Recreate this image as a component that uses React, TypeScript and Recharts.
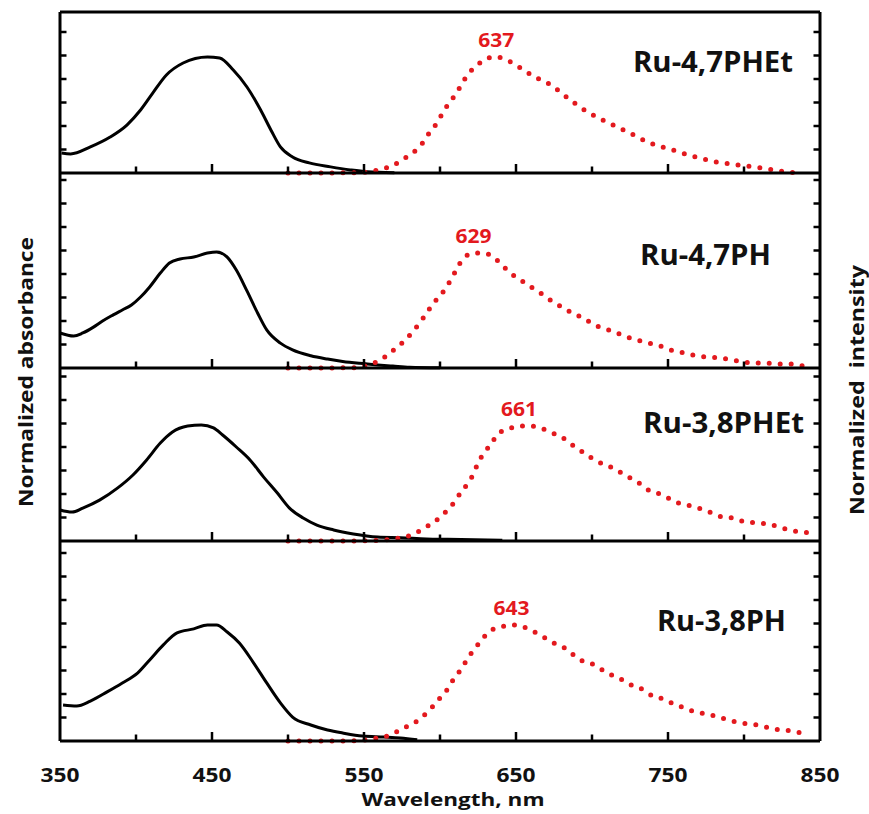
import React from "react";
import { Line, LineChart, ReferenceLine, XAxis, YAxis } from "recharts";

type Pt = [number, number];

// wavelength axis, nm
const wavelengthTicks = [350, 400, 450, 500, 550, 600, 650, 700, 750, 800, 850];

// absorbance (black) and emission (red dotted), in y-tick units
const absRu47PHEt: Pt[] = [
  [351, 0.85], [357, 0.81], [370, 1.11], [383, 1.53], [394, 2.04], [403, 2.68], [411, 3.4],
  [420, 4.17], [431, 4.68], [447, 4.94], [455, 4.89], [464, 4.38], [473, 3.66], [482, 2.68],
  [489, 1.8], [495, 1.11], [503, 0.68], [514, 0.43], [528, 0.26], [541, 0.13], [552, 0.05], [570, 0.01],
];
const emRu47PHEt: Pt[] = [
  [500, 0], [525, 0], [546, 0.02], [554, 0.06], [562, 0.17], [569, 0.32], [576, 0.6], [582, 0.85],
  [588, 1.23], [592, 1.62], [597, 2.04], [601, 2.47], [605, 2.89], [610, 3.32], [614, 3.74],
  [618, 4.17], [624, 4.55], [630, 4.85], [637, 4.94], [645, 4.77], [651, 4.55], [658, 4.26],
  [665, 4.0], [672, 3.78], [684, 3.19], [697, 2.6], [711, 2.13], [725, 1.7], [738, 1.28],
  [753, 0.98], [766, 0.72], [782, 0.47], [796, 0.34], [812, 0.21], [826, 0.06], [835, 0],
];

const absRu47PH: Pt[] = [
  [350, 1.49], [359, 1.36], [365, 1.49], [372, 1.74], [378, 2.0], [385, 2.26], [391, 2.47],
  [397, 2.68], [403, 3.02], [409, 3.45], [416, 4.04], [422, 4.47], [429, 4.64], [438, 4.72],
  [447, 4.89], [453, 4.94], [460, 4.72], [466, 4.17], [473, 3.28], [480, 2.34], [486, 1.62],
  [495, 1.06], [503, 0.77], [515, 0.52], [526, 0.38], [536, 0.28], [547, 0.2], [559, 0.13],
  [569, 0.08], [580, 0.03], [600, 0.01],
];
const emRu47PH: Pt[] = [
  [500, 0], [525, 0], [546, 0.02], [554, 0.17], [561, 0.34], [567, 0.64], [573, 0.94], [579, 1.32],
  [584, 1.7], [589, 2.13], [593, 2.51], [598, 2.94], [603, 3.32], [607, 3.74], [611, 4.21],
  [615, 4.64], [622, 4.89], [629, 4.89], [636, 4.68], [642, 4.3], [648, 3.96], [655, 3.66],
  [661, 3.4], [667, 3.15], [674, 2.83], [680, 2.6], [687, 2.34], [694, 2.13], [703, 1.79],
  [711, 1.62], [718, 1.45], [725, 1.28], [732, 1.15], [740, 1.02], [747, 0.89], [754, 0.72],
  [761, 0.64], [769, 0.51], [776, 0.47], [784, 0.43], [792, 0.34], [799, 0.26], [807, 0.21],
  [815, 0.21], [822, 0.17], [830, 0.17], [839, 0.09],
];

const absRu38PHEt: Pt[] = [
  [350, 1.32], [358, 1.23], [365, 1.4], [376, 1.74], [388, 2.26], [398, 2.81], [407, 3.45],
  [416, 4.17], [424, 4.64], [434, 4.89], [443, 4.94], [451, 4.81], [457, 4.51], [466, 4.0],
  [475, 3.45], [484, 2.72], [493, 2.04], [501, 1.4], [510, 0.98], [519, 0.68], [530, 0.47],
  [543, 0.3], [559, 0.17], [574, 0.14], [591, 0.09], [605, 0.07], [641, 0.03],
];
const emRu38PHEt: Pt[] = [
  [500, 0], [530, 0], [560, 0.02], [569, 0.09], [577, 0.17], [584, 0.34], [591, 0.6], [597, 0.85],
  [603, 1.19], [609, 1.62], [613, 2.0], [618, 2.43], [622, 2.85], [625, 3.32], [629, 3.74],
  [634, 4.17], [638, 4.55], [645, 4.77], [652, 4.89], [660, 4.89], [667, 4.79], [674, 4.6],
  [682, 4.34], [688, 4.04], [695, 3.74], [703, 3.4], [711, 3.19], [717, 2.98], [724, 2.72],
  [730, 2.51], [736, 2.21], [743, 2.04], [750, 1.83], [757, 1.62], [765, 1.49], [772, 1.36],
  [779, 1.19], [786, 1.02], [793, 0.98], [801, 0.81], [809, 0.77], [816, 0.72], [823, 0.6],
  [830, 0.47], [838, 0.38], [845, 0.34],
];

const absRu38PH: Pt[] = [
  [352, 1.53], [361, 1.49], [370, 1.7], [381, 2.09], [391, 2.47], [401, 2.89], [409, 3.45],
  [418, 4.09], [427, 4.6], [438, 4.77], [447, 4.94], [453, 4.94], [460, 4.64], [468, 4.17],
  [477, 3.36], [486, 2.47], [495, 1.62], [503, 1.02], [515, 0.68], [526, 0.47], [536, 0.34],
  [549, 0.21], [563, 0.17], [574, 0.13], [585, 0.05],
];
const emRu38PH: Pt[] = [
  [500, 0], [525, 0], [548, 0.02], [555, 0.09], [563, 0.17], [570, 0.34], [576, 0.55], [583, 0.77],
  [589, 1.06], [595, 1.45], [600, 1.83], [605, 2.21], [609, 2.64], [614, 3.06], [618, 3.49],
  [622, 3.87], [627, 4.26], [632, 4.64], [640, 4.85], [647, 4.94], [655, 4.85], [661, 4.68],
  [668, 4.43], [675, 4.17], [682, 3.96], [688, 3.66], [694, 3.4], [700, 3.28], [707, 3.02],
  [713, 2.81], [720, 2.6], [726, 2.38], [734, 2.17], [740, 1.91], [747, 1.79], [754, 1.57],
  [761, 1.4], [768, 1.23], [776, 1.15], [783, 1.02], [790, 0.89], [797, 0.77], [805, 0.72],
  [812, 0.64], [819, 0.51], [827, 0.47], [835, 0.38], [842, 0.3],
];

const complexNames = ["Ru-4,7PHEt", "Ru-4,7PH", "Ru-3,8PHEt", "Ru-3,8PH"];
const peakLabels = ["637", "629", "661", "643"];
const absSeries = [absRu47PHEt, absRu47PH, absRu38PHEt, absRu38PH];
const emSeries = [emRu47PHEt, emRu47PH, emRu38PHEt, emRu38PH];

// layout
const W = 869;
const H = 814;
const PLOT_LEFT = 60;
const PLOT_RIGHT = 820;
const PANEL_EDGES = [12, 173, 368, 541, 741];
const TICK_PX = 23.5;
const PAD_TOP = 4;
const RED = "#e3191e";
const FONT = '"Open Sans", "DejaVu Sans", sans-serif';

// name placement: [x, baseline, textLength]
const NAME_POS: [number, number, number][] = [
  [633, 72, 160],
  [640, 265, 131],
  [643, 433, 161],
  [657, 631, 129],
];

const isMajor = (v: number) => (v - 350) % 100 === 0;

// inward tick on the wavelength axis, label only on the bottom panel
function WlTick(props: any) {
  const { x, y, payload, showLabel } = props;
  const v = Number(payload?.value);
  const y0 = Number(y);
  const inner = v > 350 && v < 850;
  return (
    <g>
      {inner && (
        <path d={`M${x},${y0}V${y0 - (isMajor(v) ? 9 : 6.5)}`} stroke="#000" strokeWidth={2.5} fill="none" />
      )}
      {showLabel && isMajor(v) && (
        <text
          x={x}
          y={y0 + 41}
          textAnchor="middle"
          fontFamily={FONT}
          fontWeight={700}
          fontSize={19}
          textLength={39}
          lengthAdjust="spacingAndGlyphs"
          fill="#111"
        >
          {v}
        </text>
      )}
    </g>
  );
}

function SideTick(props: any) {
  const { x, y, dir } = props;
  return <path d={`M${x},${y}H${x + dir * 6.5}`} stroke="#000" strokeWidth={2.5} fill="none" />;
}

const makePeakLabel = (peakIdx: number, text: string) => (p: any) => {
  if (p.index !== peakIdx) return <g />;
  const vb = p.viewBox ?? {};
  const x = vb.x ?? p.x;
  const y = vb.y ?? p.y;
  return (
    <text
      x={x}
      y={y - 10}
      textAnchor="middle"
      fontFamily={FONT}
      fontWeight={700}
      fontSize={19}
      textLength={36}
      lengthAdjust="spacingAndGlyphs"
      fill={RED}
    >
      {text}
    </text>
  );
};

function Panel({ idx }: { idx: number }) {
  const top = PANEL_EDGES[idx];
  const h = PANEL_EDGES[idx + 1] - top;
  const yMax = h / TICK_PX;
  const yTicks = Array.from({ length: Math.floor(yMax) }, (_, i) => i + 1);
  const last = idx === complexNames.length - 1;
  const xh = last ? 52 : 4;
  const abs = absSeries[idx].map(([x, y]) => ({ x, y }));
  const em = emSeries[idx].map(([x, y]) => ({ x, y }));
  let peakIdx = 0;
  em.forEach((d, i) => {
    if (d.y > em[peakIdx].y) peakIdx = i;
  });
  const axisLine = { stroke: "#000", strokeWidth: 3 };

  return (
    <div style={{ position: "absolute", left: 0, top: top - PAD_TOP }}>
      <LineChart
        width={W}
        height={h + PAD_TOP + xh}
        margin={{ top: PAD_TOP, right: 0, bottom: 0, left: 0 }}
      >
        <XAxis
          dataKey="x"
          type="number"
          domain={[350, 850]}
          ticks={wavelengthTicks}
          interval={0}
          height={xh}
          tickLine={false}
          tickSize={0}
          tickMargin={0}
          axisLine={axisLine}
          tick={<WlTick showLabel={last} />}
        />
        <YAxis
          yAxisId="abs"
          orientation="left"
          width={PLOT_LEFT}
          type="number"
          domain={[0, yMax]}
          ticks={yTicks}
          interval={0}
          tickLine={false}
          tickSize={0}
          tickMargin={0}
          axisLine={axisLine}
          tick={<SideTick dir={1} />}
        />
        <YAxis
          yAxisId="em"
          orientation="right"
          width={W - PLOT_RIGHT}
          type="number"
          domain={[0, yMax]}
          ticks={yTicks}
          interval={0}
          tickLine={false}
          tickSize={0}
          tickMargin={0}
          axisLine={axisLine}
          tick={<SideTick dir={-1} />}
        />
        {idx === 0 && <ReferenceLine yAxisId="abs" y={yMax} stroke="#000" strokeWidth={3} />}
        <Line
          data={abs}
          dataKey="y"
          yAxisId="abs"
          type="monotone"
          stroke="#000"
          strokeWidth={3}
          dot={false}
          isAnimationActive={false}
        />
        <Line
          data={em}
          dataKey="y"
          yAxisId="em"
          type="monotone"
          stroke={RED}
          strokeWidth={5}
          strokeDasharray="0 11"
          strokeLinecap="round"
          dot={false}
          label={makePeakLabel(peakIdx, peakLabels[idx])}
          isAnimationActive={false}
        />
      </LineChart>
    </div>
  );
}

export default function App() {
  return (
    <div style={{ position: "absolute", left: 0, top: 0, width: W, height: H, background: "#fff" }}>
      {complexNames.map((_, i) => (
        <Panel key={i} idx={i} />
      ))}
      <svg
        width={W}
        height={H}
        style={{ position: "absolute", left: 0, top: 0, pointerEvents: "none" }}
      >
        {complexNames.map((name, i) => (
          <text
            key={name}
            x={NAME_POS[i][0]}
            y={NAME_POS[i][1]}
            fontFamily={FONT}
            fontWeight={700}
            fontSize={29}
            textLength={NAME_POS[i][2]}
            lengthAdjust="spacingAndGlyphs"
            fill="#111"
          >
            {name}
          </text>
        ))}
        <text
          x={453}
          y={806}
          textAnchor="middle"
          fontFamily={FONT}
          fontWeight={700}
          fontSize={18}
          textLength={183}
          lengthAdjust="spacingAndGlyphs"
          fill="#111"
        >
          Wavelength, nm
        </text>
        <text
          transform="translate(33,372) rotate(-90)"
          textAnchor="middle"
          fontFamily={FONT}
          fontWeight={700}
          fontSize={20}
          textLength={270}
          lengthAdjust="spacingAndGlyphs"
          fill="#111"
        >
          Normalized absorbance
        </text>
        <text
          transform="translate(864,390) rotate(-90)"
          textAnchor="middle"
          fontFamily={FONT}
          fontWeight={700}
          fontSize={20}
          textLength={250}
          lengthAdjust="spacingAndGlyphs"
          fill="#111"
          style={{ whiteSpace: "pre" }}
        >
          Normalized  intensity
        </text>
      </svg>
    </div>
  );
}
